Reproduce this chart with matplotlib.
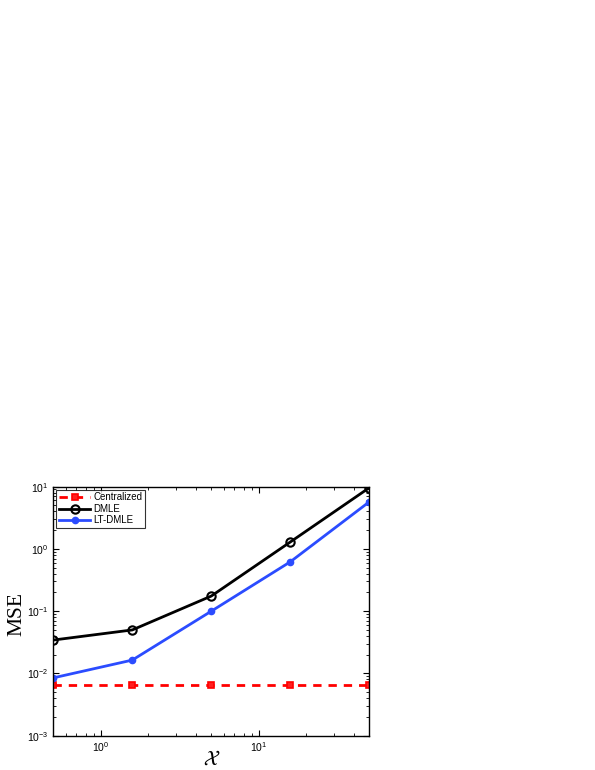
import numpy as np
import matplotlib
matplotlib.use('Agg')
import matplotlib.pyplot as plt
from matplotlib.ticker import LogLocator, NullFormatter

plt.rcParams['font.family'] = 'Liberation Sans'
plt.rcParams['mathtext.default'] = 'regular'
plt.rcParams['axes.unicode_minus'] = False

x = [0.5, 1.581, 5.0, 15.81, 50.0]
mse_central = [0.0066, 0.0066, 0.0066, 0.0066, 0.0066]
mse_dmle = [0.0344, 0.050, 0.175, 1.29, 9.6]
mse_ltdmle = [0.0085, 0.0164, 0.100, 0.62, 5.7]

fig = plt.figure(figsize=(5.95, 7.7), dpi=100)
ax = fig.add_axes([0.0896, 0.0445, 0.531, 0.3235])

ax.plot(x, mse_central, 'r--s', linewidth=2, markersize=5, mfc='#ff2020',
        mec='r', mew=1.2, dashes=(3, 2.5), label='Centralized')
ax.plot(x, mse_dmle, 'k-o', linewidth=2, markersize=6, mfc='none',
        mew=1.5, label='DMLE')
ax.plot(x, mse_ltdmle, '-o', color='#2b4cff', linewidth=2, markersize=4.5,
        label='LT-DMLE')

ax.set_xscale('log')
ax.set_yscale('log')
ax.set_xlim(0.5, 50)
ax.set_ylim(1e-3, 1e1)

ax.xaxis.set_minor_locator(LogLocator(subs=np.arange(2, 10)))
ax.xaxis.set_minor_formatter(NullFormatter())
ax.yaxis.set_minor_locator(LogLocator(subs=np.arange(2, 10)))
ax.yaxis.set_minor_formatter(NullFormatter())
ax.tick_params(which='both', direction='in', top=True, right=True, labelsize=7.5)
ax.tick_params(which='major', length=4)
ax.tick_params(which='minor', length=2)
for s in ax.spines.values():
    s.set_linewidth(1.0)

ax.set_ylabel('MSE', family='Liberation Serif', fontsize=15.5)
ax.yaxis.set_label_coords(-0.085, 0.49)
ax.set_xlabel(r'$\mathcal{X}$', fontsize=15, labelpad=-3)

leg = ax.legend(loc='upper left', fontsize=7, frameon=True, fancybox=False,
                edgecolor='k', handlelength=3.2, borderpad=0.3,
                labelspacing=0.15, handletextpad=0.3, borderaxespad=0.3)
leg.get_frame().set_linewidth(0.8)

fig.savefig('out.png', dpi=100)
